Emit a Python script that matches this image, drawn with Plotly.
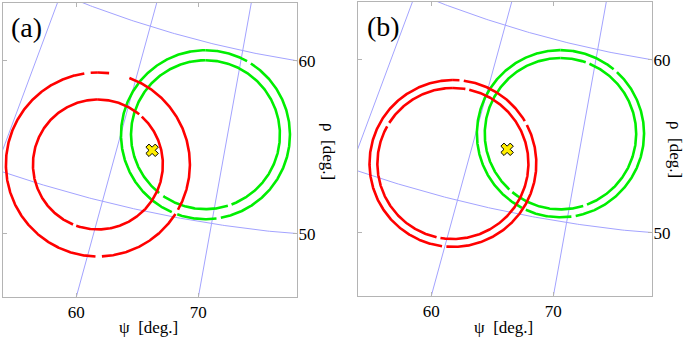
import numpy as np
import plotly.graph_objects as go

# ---------------- data ----------------
psi_grid = [40, 50, 60, 70, 80]          # psi grid lines [deg]
rho_grid = [40, 50, 60, 70]              # rho grid lines [deg]
psi_ticks = [60, 70]
psi_tick_text = ["60", "70"]
rho_ticks = [60, 50]
rho_tick_text = ["60", "50"]

red_center = (58.7, 51.9)      # (psi, rho) centre of the red rings
green_center = (67.9, 54.9)    # (psi, rho) centre of the green rings
marker_pos = (63.25, 53.4)     # (psi, rho) of the yellow cross

# ring radii [deg]
red_radii_a = [5.14, 3.63]
green_radii_a = [4.72, 4.16]
red_radii_b = [4.66, 4.22]
green_radii_b = [4.67, 4.23]

# gaps in rings (start, end) in degrees clockwise from top
red_gaps_a = [[(7.5, 19.5), (352, 355), (178, 181), (120, 122)], [(40, 42), (200, 202)]]
green_gaps_a = [[(200, 203), (170, 172), (30, 32)], [(215, 218), (160, 162)]]
red_gaps_b = [[(5, 7), (185, 187), (60, 62)], [(10, 12), (190, 192), (300, 302)]]
green_gaps_b = [[(205, 207), (170, 172), (40, 42)], [(220, 222), (160, 162), (20, 22)]]

panel_labels = ["(a)", "(b)"]

# ---------------- projection (plane units ~ pixels) ----------------
POLE = (433.0, -1007.0)
DEG_SCALE = 17.9


def theta_deg(psi):
    return -10.2 + 0.51 * (np.asarray(psi, dtype=float) - 70.0)


def proj(psi, rho):
    thd = theta_deg(psi)
    r60 = 1081.3 + 0.65 * thd
    r50 = 1245.4 - 0.48 * thd
    r = r60 + (60.0 - np.asarray(rho, dtype=float)) / 10.0 * (r50 - r60)
    th = np.radians(thd)
    return POLE[0] + r * np.sin(th), POLE[1] + r * np.cos(th)


XR = [3, 297]
YR = [297, 3]

GRID_COL = "#a3a3ff"
FRAME_COL = "#b4b4b4"
FONT = "Liberation Serif"

fig = go.Figure()


def ring_xy(center, radius_deg, gaps):
    cx, cy = proj(*center)
    R = radius_deg * DEG_SCALE
    ang = np.arange(0, 360.5, 0.5)
    xs, ys = [], []
    for a in ang:
        if any(g0 <= a <= g1 for g0, g1 in gaps):
            xs.append(None)
            ys.append(None)
        else:
            xs.append(cx + R * np.sin(np.radians(a)))
            ys.append(cy - R * np.cos(np.radians(a)))
    return xs, ys


panels = [
    ("x", "y", red_radii_a, red_gaps_a, green_radii_a, green_gaps_a),
    ("x2", "y2", red_radii_b, red_gaps_b, green_radii_b, green_gaps_b),
]

for xa, ya, rr, rg, gr, gg in panels:
    # grid
    for p in psi_grid:
        rh = np.linspace(20, 90, 200)
        gx, gy = proj(np.full_like(rh, p), rh)
        fig.add_trace(go.Scatter(x=gx, y=gy, mode="lines", xaxis=xa, yaxis=ya,
                                 line=dict(color=GRID_COL, width=1), hoverinfo="skip", showlegend=False))
    for q in rho_grid:
        ps = np.linspace(20, 110, 400)
        gx, gy = proj(ps, np.full_like(ps, q))
        fig.add_trace(go.Scatter(x=gx, y=gy, mode="lines", xaxis=xa, yaxis=ya,
                                 line=dict(color=GRID_COL, width=1), hoverinfo="skip", showlegend=False))
    # rings
    for rad, gap in zip(gr, gg):
        x, y = ring_xy(green_center, rad, gap)
        fig.add_trace(go.Scatter(x=x, y=y, mode="lines", xaxis=xa, yaxis=ya, connectgaps=False,
                                 line=dict(color="#00ee00", width=2.6), showlegend=False))
    for rad, gap in zip(rr, rg):
        x, y = ring_xy(red_center, rad, gap)
        fig.add_trace(go.Scatter(x=x, y=y, mode="lines", xaxis=xa, yaxis=ya, connectgaps=False,
                                 line=dict(color="#ff0000", width=2.6), showlegend=False))
    mx, my = proj(*marker_pos)
    fig.add_trace(go.Scatter(x=[mx], y=[my], mode="markers", xaxis=xa, yaxis=ya,
                             marker=dict(symbol="x", size=11, color="#ffee00",
                                         line=dict(color="#000000", width=1)),
                             showlegend=False))

# tick positions from the grid geometry
bx = []
for p in psi_ticks:
    rh = np.linspace(90, 20, 2000)
    gx, gy = proj(np.full_like(rh, p), rh)
    bx.append(float(np.interp(YR[0], gy, gx)))
ry = []
for q in rho_ticks:
    ps = np.linspace(20, 110, 4000)
    gx, gy = proj(ps, np.full_like(ps, q))
    ry.append(float(np.interp(XR[1], gx, gy)))

W, H = 692, 337
dom_a_x = [3 / W, 297 / W]
dom_b_x = [358 / W, 652 / W]
dom_a_y = [1 - 297 / H, 1 - 3 / H]
dom_b_y = [1 - 296 / H, 1 - 2 / H]

axis_common = dict(showgrid=False, zeroline=False, showline=True, linecolor=FRAME_COL, linewidth=1,
                   mirror="allticks", ticks="inside", ticklen=4, tickcolor=FRAME_COL, tickwidth=1,
                   tickfont=dict(family=FONT, size=17, color="#000000"))

fig.update_layout(
    width=W, height=H,
    margin=dict(l=0, r=0, t=0, b=0),
    paper_bgcolor="white", plot_bgcolor="white",
    xaxis=dict(domain=dom_a_x, range=XR, anchor="y", tickvals=bx, ticktext=psi_tick_text,
               ticklabelstandoff=0, **axis_common),
    yaxis=dict(domain=dom_a_y, range=YR, anchor="x", side="right", tickvals=ry, ticktext=rho_tick_text,
               ticklabelstandoff=-3, **axis_common),
    xaxis2=dict(domain=dom_b_x, range=XR, anchor="y2", tickvals=bx, ticktext=psi_tick_text,
                ticklabelstandoff=0, **axis_common),
    yaxis2=dict(domain=dom_b_y, range=YR, anchor="x2", side="right", tickvals=ry, ticktext=rho_tick_text,
                ticklabelstandoff=-3, **axis_common),
)

ann = []
for (lx, ly), txt in zip([(26, 28), (383, 26)], panel_labels):
    ann.append(dict(x=lx / W, y=1 - ly / H, xref="paper", yref="paper", text=txt, showarrow=False,
                    xanchor="center", yanchor="middle", font=dict(family=FONT, size=28, color="#000")))
for cx in [148, 503]:
    ann.append(dict(x=cx / W, y=1 - 327 / H, xref="paper", yref="paper", text="ψ  [deg.]", showarrow=False,
                    xanchor="center", yanchor="middle", font=dict(family=FONT, size=17, color="#000")))
for cx, cy in [(329, 151), (676, 149)]:
    ann.append(dict(x=cx / W, y=1 - cy / H, xref="paper", yref="paper", text="ρ  [deg.]", showarrow=False,
                    textangle=90, xanchor="center", yanchor="middle",
                    font=dict(family=FONT, size=17, color="#000")))
fig.update_layout(annotations=ann)

fig.write_html("out.html", config={"displayModeBar": False},
               post_script="document.body.style.margin='0';document.body.style.overflow='hidden';")
